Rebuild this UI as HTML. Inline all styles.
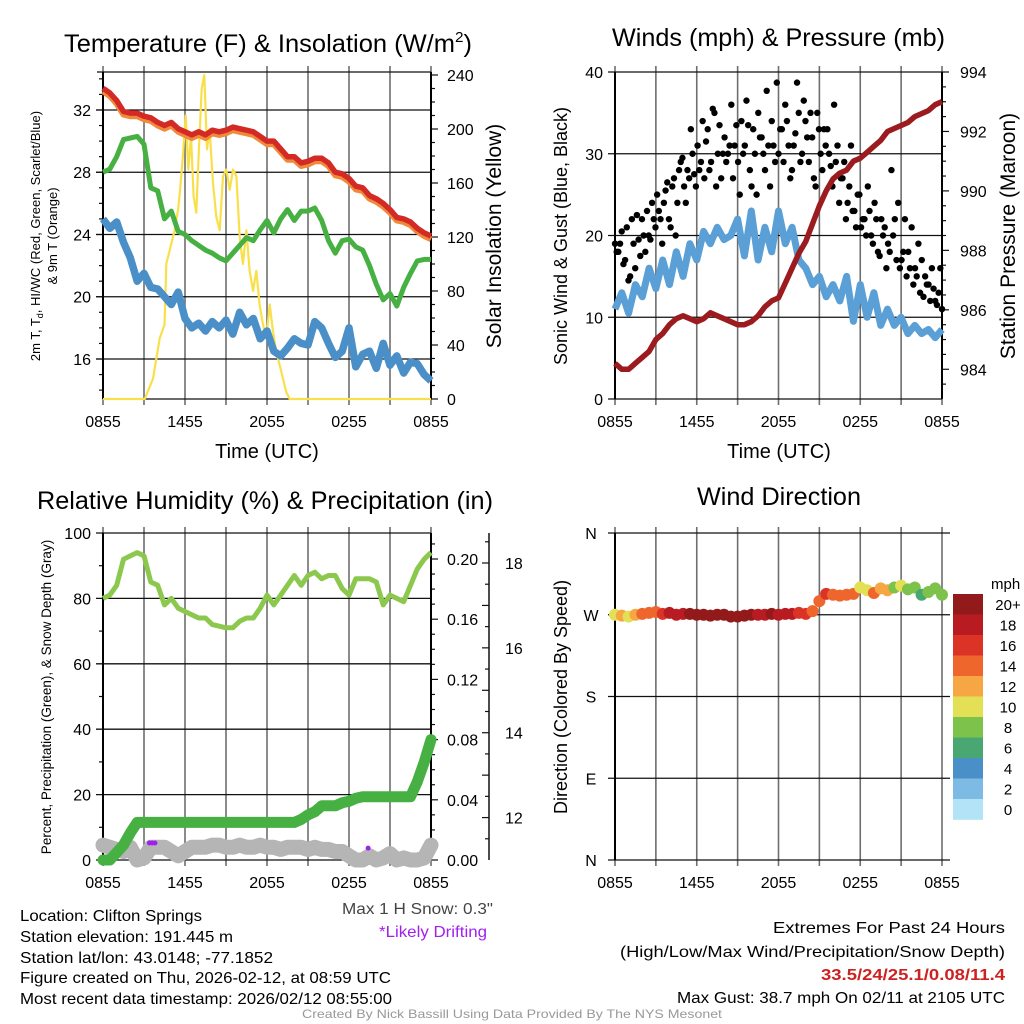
<!DOCTYPE html>
<html><head><meta charset="utf-8">
<style>
html,body{margin:0;padding:0;background:#fff;}
svg{display:block;font-family:"Liberation Sans",Arial,sans-serif;}
</style></head>
<body>
<svg id="chart" xmlns="http://www.w3.org/2000/svg" width="1024" height="1024" viewBox="0 0 1024 1024">
<rect width="1024" height="1024" fill="#fff"/>
<g id="layer"></g>
<text x="64" y="52" font-size="25" textLength="408" lengthAdjust="spacingAndGlyphs">Temperature (F) &amp; Insolation (W/m<tspan font-size="15" dy="-10">2</tspan><tspan dy="10">)</tspan></text>
<text x="612" y="46" font-size="25" textLength="333" lengthAdjust="spacingAndGlyphs">Winds (mph) &amp; Pressure (mb)</text>
<text x="37" y="509" font-size="25" textLength="456" lengthAdjust="spacingAndGlyphs">Relative Humidity (%) &amp; Precipitation (in)</text>
<text x="697" y="505" font-size="25" textLength="164" lengthAdjust="spacingAndGlyphs">Wind Direction</text>
<text x="267" y="458" font-size="20" text-anchor="middle">Time (UTC)</text>
<text x="779" y="458" font-size="20" text-anchor="middle">Time (UTC)</text>
<text transform="translate(40,236) rotate(-90)" font-size="13" text-anchor="middle">2m T, T<tspan font-size="9" dy="3">d</tspan><tspan dy="-3">, HI/WC (Red, Green, Scarlet/Blue)</tspan></text>
<text transform="translate(57,236) rotate(-90)" font-size="13" text-anchor="middle">&amp; 9m T (Orange)</text>
<text transform="translate(501,236) rotate(-90)" font-size="21" text-anchor="middle">Solar Insolation (Yellow)</text>
<text transform="translate(567,236) rotate(-90)" font-size="18" text-anchor="middle">Sonic Wind &amp; Gust (Blue, Black)</text>
<text transform="translate(1015,236) rotate(-90)" font-size="21" text-anchor="middle">Station Pressure (Maroon)</text>
<text transform="translate(51,697) rotate(-90)" font-size="13.5" text-anchor="middle">Percent, Precipitation (Green), &amp; Snow Depth (Gray)</text>
<text transform="translate(567,697) rotate(-90)" font-size="18" text-anchor="middle">Direction (Colored By Speed)</text>
<text x="991" y="589" font-size="15">mph</text>
<g font-size="16">
<text x="20" y="921" textLength="182" lengthAdjust="spacingAndGlyphs">Location: Clifton Springs</text>
<text x="20" y="942" textLength="213" lengthAdjust="spacingAndGlyphs">Station elevation: 191.445 m</text>
<text x="20" y="963" textLength="253" lengthAdjust="spacingAndGlyphs">Station lat/lon: 43.0148; -77.1852</text>
<text x="20" y="983" textLength="371" lengthAdjust="spacingAndGlyphs">Figure created on Thu, 2026-02-12, at 08:59 UTC</text>
<text x="20" y="1004" textLength="372" lengthAdjust="spacingAndGlyphs">Most recent data timestamp: 2026/02/12 08:55:00</text>
</g>
<text x="342" y="914" font-size="16" fill="#444" textLength="151" lengthAdjust="spacingAndGlyphs">Max 1 H Snow: 0.3"</text>
<text x="379" y="937" font-size="16" fill="#a020f0" textLength="108" lengthAdjust="spacingAndGlyphs">*Likely Drifting</text>
<text x="773" y="933" font-size="16" textLength="232" lengthAdjust="spacingAndGlyphs">Extremes For Past 24 Hours</text>
<text x="620" y="957" font-size="16" textLength="385" lengthAdjust="spacingAndGlyphs">(High/Low/Max Wind/Precipitation/Snow Depth)</text>
<text x="821" y="980" font-size="16" font-weight="bold" fill="#cc2222" textLength="184" lengthAdjust="spacingAndGlyphs">33.5/24/25.1/0.08/11.4</text>
<text x="677" y="1003" font-size="16" textLength="328" lengthAdjust="spacingAndGlyphs">Max Gust: 38.7 mph On 02/11 at 2105 UTC</text>
<text x="302" y="1018" font-size="12" fill="#999" textLength="420" lengthAdjust="spacingAndGlyphs">Created By Nick Bassill Using Data Provided By The NYS Mesonet</text>
</svg>
<script>
// ---------- data ----------
const timeLabels = ["0855","1455","2055","0255","0855"];
const tempRed = [33.4,33.1,32.6,31.9,31.8,31.8,31.6,31.5,31.2,31.0,31.2,30.8,30.6,30.4,30.6,30.4,30.7,30.6,30.7,30.9,30.8,30.7,30.6,30.3,30.0,30.0,29.5,29.0,29.0,28.6,28.7,28.9,28.9,28.6,28.0,27.9,27.6,27.1,27.0,26.5,26.3,26.0,25.6,25.1,25.0,24.8,24.4,24.1,23.9];
const temp9m = [33.2,32.9,32.4,31.7,31.6,31.6,31.4,31.3,31.0,30.8,31.0,30.6,30.4,30.2,30.4,30.2,30.5,30.4,30.5,30.7,30.6,30.5,30.4,30.1,29.8,29.8,29.3,28.8,28.8,28.4,28.5,28.7,28.7,28.4,27.8,27.7,27.4,26.9,26.8,26.3,26.1,25.8,25.4,24.9,24.8,24.6,24.2,23.9,23.7];
const heatWind = [28.0,28.2,29.0,30.1,30.2,30.3,29.8,27.0,26.8,25.0,25.5,24.2,24.0,23.6,23.3,23.0,22.8,22.5,22.3,22.8,23.3,23.8,23.6,24.3,24.9,24.1,25.0,25.6,24.9,25.5,25.5,25.7,24.9,23.6,22.8,23.6,23.7,23.2,23.0,22.0,20.8,19.8,20.2,19.4,20.6,21.5,22.3,22.4,22.4];
const dewPoint = [25.0,24.4,24.8,23.5,22.5,21.0,21.5,20.6,20.5,20.0,19.5,20.3,18.6,18.0,18.3,17.8,18.4,18.0,18.5,17.6,19.0,18.2,18.6,17.3,17.8,16.5,16.2,16.7,17.3,17.0,16.9,18.4,18.0,17.0,16.1,16.5,18.0,15.5,16.3,16.5,15.4,17.0,15.6,16.2,15.1,15.8,15.7,15.0,14.6];
const solarHours = [0,3.05,3.66,4.15,4.5,4.63,5.0,5.24,5.49,5.6,5.85,6.05,6.24,6.44,6.63,6.83,7.02,7.22,7.41,7.61,7.8,8.05,8.29,8.54,8.78,9.02,9.27,9.51,9.76,10.0,10.24,10.49,10.73,10.98,11.22,11.46,11.71,11.95,12.2,12.44,12.68,13.05,13.41,13.66,24];
const solarValues = [0,0,15,45,55,100,115,125,140,150,180,210,170,195,150,138,185,230,240,185,200,160,135,125,165,170,155,170,165,120,100,125,95,80,95,70,55,45,70,50,35,20,5,0,0];
const windSpeed = [11,13,10.5,14,12.5,16,13.5,17,14,18,15,19,17,20.5,19,21,19.5,20,22,17.5,23,17,21,18,23,19,21,17,16,14,15,12.5,14,12,15,9.5,14,10,13,9,11,9,10,8,9,8,8.5,7.5,8.5];
const gustSpeed = [19,18,20.5,17,14.5,22,16,19.5,22,18,20,24,21,23,19,25.5,22,26,20,28,29.5,24,27,30,26,28,34,31.5,28,35.5,26,33.5,30,29,31,27,33.5,25,30,36.5,28,33,25,32,30,37.7,26,31,38.7,33,29,34,27,31,38.7,29,36.5,32,35,27,35,30,33,33,28.5,36,31,27,29,24,31,23,25,21,22,26,20,24,18,22,21,19,28,22,24,17,22,18,21,16,19,17,15,14,16,12,13,11];
const gustSpeed2 = [18,19,16.5,21,15,19,22.5,17.5,20,23,19.5,22,25,22,24,26.5,21,27,24,29,26,28,33,27.5,31,29,27,33,29,35,30,27,32,30,36,31,29,34,31,33.5,26,30,35,32,28,31,34,29,30,33,36,31,28,32.5,35,30,34,29,32,26,33,28,31,30,26,29,24,27,22,26,23,21,25,22,20,23,19,22,17.5,20,16,18,20,17,16,18,15,16,14,15,13,12.5,14,12,13.5,11.5,16];
const pressure = [984.2,984.0,984.0,984.2,984.4,984.6,985.0,985.2,985.5,985.7,985.8,985.7,985.6,985.7,985.9,985.8,985.7,985.6,985.5,985.5,985.6,985.8,986.1,986.3,986.4,986.9,987.4,987.9,988.3,988.9,989.5,990.0,990.4,990.6,990.7,991.0,991.1,991.3,991.5,991.7,992.0,992.1,992.2,992.3,992.5,992.6,992.7,992.9,993.0];
const humidity = [80,81,84,92,93,94,93,85,84,78,80,77,76,75,74,74,72,71.5,71,71,73,74,74,77,81,78,81,84,87,84,87,88,86,87,87,83,81,86,86,86,85,78,81,80,79,84,89,92,94];
const precip = [0,0,0.005,0.01,0.018,0.025,0.025,0.025,0.025,0.025,0.025,0.025,0.025,0.025,0.025,0.025,0.025,0.025,0.025,0.025,0.025,0.025,0.025,0.025,0.025,0.025,0.025,0.025,0.025,0.027,0.03,0.032,0.036,0.036,0.036,0.038,0.039,0.041,0.042,0.042,0.042,0.042,0.042,0.042,0.042,0.042,0.052,0.065,0.08];
const snowDepth = [11.35,11.3,11.25,11.2,11.3,11.0,11.05,11.3,11.3,11.3,11.2,11.1,11.2,11.3,11.3,11.3,11.35,11.35,11.3,11.3,11.35,11.3,11.3,11.35,11.3,11.3,11.25,11.3,11.3,11.3,11.25,11.3,11.25,11.25,11.2,11.2,11.1,11.0,11.0,11.1,11.0,11.05,11.15,11.0,11.05,11.0,11.0,11.05,11.35];
const driftHours = [3.4,3.6,3.8,19.4];
const driftDepth = [11.4,11.4,11.4,11.28];
const windDir = [270,269,268,270,271,272,273,271,272,270,271,271,270,270,269,270,270,268,268,269,270,270,270,271,270,271,271,272,271,274,285,293,292,291,292,293,300,297,294,299,297,300,302,298,300,292,295,299,292];
const dirSpeed = [11,12,11,13,14,15,15,16,18,19,19,20,20,21,21,20,20,21,21,20,20,19,19,20,19,19,18,16,17,15,15,16,14,15,15,14,10,11,14,12,12,8,10,8,8,7,9,8,8];
const tempTicks = [16,20,24,28,32];
const solarTicks = [0,40,80,120,160,200,240];
const windTicks = [0,10,20,30,40];
const pressTicks = [984,986,988,990,992,994];
const rhTicks = [0,20,40,60,80,100];
const precipTicks = [0,0.04,0.08,0.12,0.16,0.2];
const precipLabels = ["0.00","0.04","0.08","0.12","0.16","0.20"];
const snowTicks = [12,14,16,18];
const dirTicks = [0,90,180,270,360];
const dirLabels = ["N","E","S","W","N"];
const legendLabels = ["0","2","4","6","8","10","12","14","16","18","20+"];
const legendColors = ["#b3e3f7","#7ebbe4","#4a8fc7","#49a872","#7dc24b","#e4e055","#f6a744","#ef662c","#dc3327","#b81c22","#921a1b"];

// ---------- helpers ----------
const NS="http://www.w3.org/2000/svg";
const layer=document.getElementById('layer');
function mk(tag,attrs,parent){const e=document.createElementNS(NS,tag);for(const k in attrs)e.setAttribute(k,attrs[k]);(parent||layer).appendChild(e);return e;}
function lin(d0,d1,r0,r1){return v=>r0+(v-d0)/(d1-d0)*(r1-r0);}
function pathFrom(xs,ys){let s='';for(let i=0;i<xs.length;i++)s+=(i?'L':'M')+xs[i].toFixed(1)+','+ys[i].toFixed(1);return s;}
const N=48;

function frame(x0,x1,y0,y1,name,showLabels){
  const g=mk('g',{});
  
  
  const xs=lin(0,8,x0,x1);
  for(let k=0;k<=8;k++){
    const l=mk('line',{x1:xs(k),x2:xs(k),y1:y0-6,y2:y1+6,stroke:'#6e6e6e','stroke-width':1.6},g);
    
    
  }
  if(showLabels){
    for(let k=0;k<timeLabels.length;k++){
      const t=mk('text',{x:xs(k*2),y:y1+28,'font-size':16,'text-anchor':'middle'},g);
      t.textContent=timeLabels[k];
      
      
    }
  }
  return g;
}
function hline(g,x0,x1,y,w){const l=mk('line',{x1:x0,x2:x1,y1:y,y2:y,stroke:'#111','stroke-width':w||1.3},g);
  
  return l;}
function tick(g,x,y,dx){const l=mk('line',{x1:x,x2:x+dx,y1:y,y2:y,stroke:'#111','stroke-width':1.2},g);
  
  }
function label(g,x,y,txt,anchor,name){const t=mk('text',{x:x,y:y+6,'font-size':16,'text-anchor':anchor},g);t.textContent=txt;
  
  }

// ---------- Panel 1: temperature ----------
(function(){
  const x0=103,x1=431,y0=72,y1=399;
  const g=frame(x0,x1,y0,y1,'temperature-panel',true);
  const sx=lin(0,N,x0,x1), sh=lin(0,24,x0,x1);
  const sy=lin(13.43,34.44,y1,y0), sw=lin(0,240,y1,y1-324);
  hline(g,x0-6,x1,y0); hline(g,x0,x1,y1);
  for(let v=14;v<=34;v++){ if(sy(v)>=y0&&sy(v)<=y1) tick(g,x0,sy(v),v%4===0?-7:-4); }
  tempTicks.forEach(v=>{hline(g,x0-7,x1,sy(v));label(g,x0-12,sy(v),String(v),'end','temp-tick-label');});
  for(let v=0;v<=240;v+=10) tick(g,x1,sw(v),v%40===0?7:4);
  solarTicks.forEach(v=>label(g,x1+16,sw(v),String(v),'start','solar-tick-label'));
  mk('line',{x1:x0,x2:x0,y1:y0,y2:y1,stroke:'#000','stroke-width':2},g);
  mk('line',{x1:x1,x2:x1,y1:y0,y2:y1,stroke:'#000','stroke-width':2},g);
  const idx=tempRed.map((_,i)=>sx(i));
  const pY=mk('path',{d:pathFrom(solarHours.map(sh),solarValues.map(sw)),fill:'none',stroke:'#f9e04b','stroke-width':2.2,'stroke-linejoin':'round'});
  
  
  const pB=mk('path',{d:pathFrom(idx,dewPoint.map(sy)),fill:'none',stroke:'#4a8fc7','stroke-width':7.5,'stroke-linejoin':'round'});
  
  
  const pG=mk('path',{d:pathFrom(idx,heatWind.map(sy)),fill:'none',stroke:'#46b043','stroke-width':5,'stroke-linejoin':'round'});
  
  
  const pO=mk('path',{d:pathFrom(idx,temp9m.map(sy)),fill:'none',stroke:'#f08a3a','stroke-width':6,'stroke-linejoin':'round'});
  
  
  const pR=mk('path',{d:pathFrom(idx,tempRed.map(sy)),fill:'none',stroke:'#d42a26','stroke-width':5.5,'stroke-linejoin':'round'});
  
  
})();

// ---------- Panel 2: winds ----------
(function(){
  const x0=615,x1=942,y0=72,y1=399;
  const g=frame(x0,x1,y0,y1,'winds-panel',true);
  const sx=lin(0,N,x0,x1);
  const sy=lin(0,40,y1,y0), sp=lin(983,994,y1,y0);
  windTicks.forEach(v=>{hline(g,x0-7,x1,sy(v));label(g,x0-12,sy(v),String(v),'end','wind-tick-label');});
  for(let v=983.5;v<=994;v+=0.5) tick(g,x1,sp(v),(v%2===0)?7:4);
  pressTicks.forEach(v=>label(g,x1+18,sp(v),String(v),'start','pressure-tick-label'));
  mk('line',{x1:x0,x2:x0,y1:y0,y2:y1,stroke:'#000','stroke-width':2},g);
  mk('line',{x1:x1,x2:x1,y1:y0,y2:y1,stroke:'#000','stroke-width':2},g);
  const pW=mk('path',{d:pathFrom(windSpeed.map((_,i)=>sx(i)),windSpeed.map(sy)),fill:'none',stroke:'#5a9fd6','stroke-width':7,'stroke-linejoin':'round'});
  
  
  const gx=lin(0,gustSpeed.length-1,x0,x1);
  gustSpeed.forEach((v,i)=>{
    const c=mk('circle',{cx:gx(i),cy:sy(v),r:3.2,fill:'#000'});
    
    
  });
  const gx2=lin(-0.5,gustSpeed2.length-0.5,x0,x1);
  gustSpeed2.forEach((v,i)=>{
    const c=mk('circle',{cx:gx2(i),cy:sy(v),r:3.2,fill:'#000'});
    
    
  });
  const pP=mk('path',{d:pathFrom(pressure.map((_,i)=>sx(i)),pressure.map(sp)),fill:'none',stroke:'#9b1b1e','stroke-width':5.5,'stroke-linejoin':'round'});
  
  
})();

// ---------- Panel 3: humidity ----------
(function(){
  const x0=103,x1=431,y0=533,y1=860;
  const g=frame(x0,x1,y0,y1,'humidity-panel',true);
  const sx=lin(0,N,x0,x1), sh=lin(0,24,x0,x1);
  const sy=lin(0,100,y1,y0), spr=lin(0,0.2,y1,559), ssn=lin(11,18,y1,563);
  for(let v=10;v<=90;v+=20) tick(g,x0,sy(v),-4);
  rhTicks.forEach(v=>{hline(g,x0-7,x1,sy(v));label(g,x0-12,sy(v),String(v),'end','rh-tick-label');});
  for(let v=0;v<=0.215;v+=0.01) tick(g,x1,spr(v),(Math.round(v*100)%4===0)?7:4);
  precipTicks.forEach((v,i)=>label(g,x1+16,spr(v),precipLabels[i],'start','precip-tick-label'));
  const ax=mk('line',{x1:489,x2:489,y1:y0,y2:y1,stroke:'#111','stroke-width':1.5},g);
  
  
  for(let v=11.5;v<=18.5;v+=0.5) tick(g,489,ssn(v),-(v%1===0?7:4));
  snowTicks.forEach(v=>label(g,505,ssn(v),String(v),'start','snow-tick-label'));
  mk('line',{x1:x0,x2:x0,y1:y0,y2:y1,stroke:'#000','stroke-width':2},g);
  mk('line',{x1:x1,x2:x1,y1:y0,y2:y1,stroke:'#000','stroke-width':2},g);
  const idx=humidity.map((_,i)=>sx(i));
  const pS=mk('path',{d:pathFrom(idx,snowDepth.map(ssn)),fill:'none',stroke:'#b5b5b5','stroke-width':15,'stroke-linejoin':'round','stroke-linecap':'round'});
  
  
  driftHours.forEach((h,i)=>{
    const c=mk('circle',{cx:sh(h),cy:ssn(driftDepth[i]),r:2.5,fill:'#a020f0'});
    
    
  });
  const pPr=mk('path',{d:pathFrom(idx,precip.map(spr)),fill:'none',stroke:'#46b043','stroke-width':11,'stroke-linejoin':'round','stroke-linecap':'round'});
  
  
  const pH=mk('path',{d:pathFrom(idx,humidity.map(sy)),fill:'none',stroke:'#8cc84e','stroke-width':5,'stroke-linejoin':'round'});
  
  
})();

// ---------- Panel 4: wind direction ----------
(function(){
  const x0=615,x1=942,y0=533,y1=860;
  const g=frame(x0,x1,y0,y1,'wind-direction-panel',true);
  const sx=lin(0,N,x0,x1), sy=lin(0,360,y1,y0);
  dirTicks.forEach((v,i)=>{hline(g,x0-7,x1+8,sy(v));label(g,591,sy(v),dirLabels[i],'middle','direction-tick-label');});
  mk('line',{x1:x0,x2:x0,y1:y0,y2:y1,stroke:'#000','stroke-width':2},g);
  windDir.forEach((d,i)=>{
    const bin=Math.min(10,Math.floor(dirSpeed[i]/2));
    const c=mk('circle',{cx:sx(i),cy:sy(d),r:6,fill:legendColors[bin]});
    
    
  });
  const lg=mk('g',{});
  
  
  const bh=20.5, top=594;
  for(let k=0;k<legendColors.length;k++){
    const j=legendColors.length-1-k;
    const r=mk('rect',{x:953,y:top+k*bh,width:30,height:bh+0.3,fill:legendColors[j]},lg);
    
    
    const t=mk('text',{x:1008,y:top+k*bh+16,'font-size':15,'text-anchor':'middle'},lg);
    t.textContent=legendLabels[j];
    
    
  }
})();
</script>
</body></html>
